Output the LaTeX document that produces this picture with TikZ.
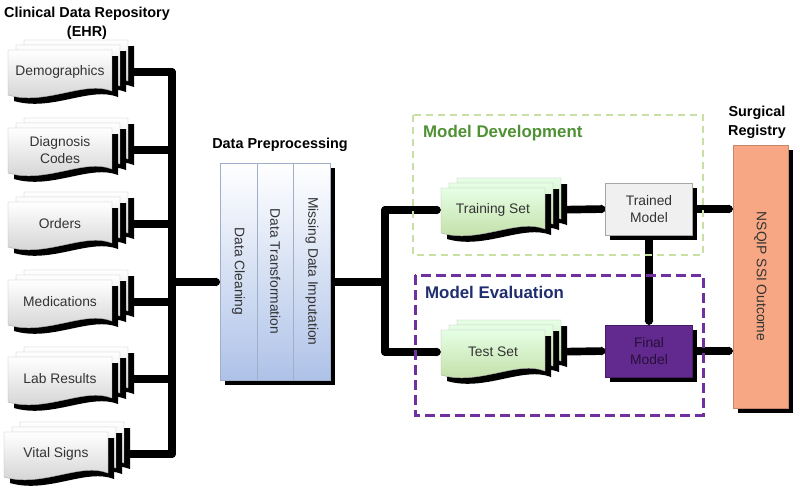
\documentclass[tikz,border=0pt]{standalone}
\usepackage{fontspec}
\setmainfont{Liberation Sans}
\usepackage{tikz}
\usetikzlibrary{arrows.meta}
\usetikzlibrary{shadows}
\pgfdeclarelayer{back}
\pgfsetlayers{back,main}

\definecolor{stackgray}{HTML}{CFCFCF}
\definecolor{stackgreen}{HTML}{BEDBA0}
\definecolor{prepblue}{HTML}{AEC2E8}
\definecolor{devgreen}{HTML}{C9E0A4}
\definecolor{devtitle}{HTML}{4F9134}
\definecolor{evalpurple}{HTML}{7030A0}
\definecolor{evaltitle}{HTML}{1F2E6E}
\definecolor{finalpurple}{HTML}{62298F}
\definecolor{salmon}{HTML}{F7A783}
\definecolor{textgray}{HTML}{333333}

\tikzset{
  link/.style={line width=0.23cm, line cap=round, black},
  tip/.style={-{Triangle[length=0.12cm,width=0.27cm]}},
  sectitle/.style={font=\bfseries\fontsize{12.3}{16}\selectfont, align=center},
  modtitle/.style={font=\bfseries\fontsize{14.4}{16}\selectfont, anchor=west},
  stacktext/.style={minimum width=3.12cm, minimum height=1.32cm, text=textgray,
    align=center, font=\fontsize{11.8}{14}\selectfont},
  graypage/.style={draw=gray!60, top color=white, bottom color=stackgray},
  greenpage/.style={draw=gray!60, top color=green!10!white, bottom color=stackgreen},
  boxshadow/.style={drop shadow={shadow xshift=0.14cm, shadow yshift=-0.16cm,
    fill=black, opacity=1}},
  prepcol/.style={minimum width=1.1cm, minimum height=6.51cm, inner sep=0pt,
    draw=prepblue!70!gray, top color=white, bottom color=prepblue, boxshadow,
    text=textgray, font=\fontsize{11.8}{14}\selectfont},
  modelbox/.style={minimum width=2.6cm, minimum height=1.56cm, align=center,
    boxshadow, font=\fontsize{11.8}{14}\selectfont},
  devframe/.style={devgreen, line width=0.06cm, dash pattern=on 0.21cm off 0.15cm},
  evalframe/.style={evalpurple, line width=0.09cm, dash pattern=on 0.3cm off 0.15cm}
}

% stack of pages: name, x, y, page style, text
\newcommand{\docstack}[5]{%
  \foreach \d in {16,8,0}{
    \begin{scope}[shift={(#2+\d,#3-0.625*\d)}]
      \fill[black] (-46,-16) -- (58,-16) -- (58,25) .. controls (30,14) and (-8,40) .. (-46,29) -- cycle;
      \draw[#4] (-52,-22) -- (52,-22) -- (52,19) .. controls (24,8) and (-14,34) .. (-52,23) -- cycle;
    \end{scope}
  }
  \node[stacktext] (#1) at (#2,#3) {#5};
}

\begin{document}
\begin{tikzpicture}[x=0.03cm, y=-0.03cm]
\useasboundingbox (0,0) rectangle (800,493);
% titles
\node[sectitle] (ehrtitle) at (87,23) {Clinical Data Repository\\(EHR)};
\node[sectitle] (preptitle) at (280,145) {Data Preprocessing};
\node[sectitle] (regtitle) at (757,122) {Surgical\\Registry};
\node[modtitle, text=devtitle] (devtitle) at (419,133) {Model Development};
\node[modtitle, text=evaltitle] (evaltitle) at (421,292) {Model Evaluation};
% ehr sources
\docstack{demo}{60}{72}{graypage}{Demographics}
\docstack{diag}{60}{150}{graypage}{Diagnosis\\Codes}
\docstack{orders}{60}{224}{graypage}{Orders}
\docstack{meds}{60}{302}{graypage}{Medications}
\docstack{lab}{60}{379}{graypage}{Lab Results}
\docstack{vital}{56}{454}{graypage}{Vital Signs}
% preprocessing steps
\node[prepcol] (clean) at (238.5,271.5) {\rotatebox{-90}{Data Cleaning}};
\node[prepcol] (transf) at (275.2,271.5) {\rotatebox{-90}{Data Transformation}};
\node[prepcol] (impute) at (311.9,271.5) {\rotatebox{-90}{Missing Data Imputation}};
% frames
\draw[devframe] (413,115) rectangle (703,255);
\draw[evalframe] (415,275) rectangle (703,415);
% model
\docstack{train}{493}{210}{greenpage}{Training Set}
\docstack{test}{493}{352}{greenpage}{Test Set}
\node[modelbox, draw=gray!70, fill=black!6, text=textgray] (trained) at (649,209) {Trained\\Model};
\node[modelbox, draw=finalpurple!70!black, fill=finalpurple, text=finalpurple!40!black] (final) at (649,351) {Final\\Model};
\node[minimum width=1.65cm, minimum height=7.89cm, draw=salmon!80!black, fill=salmon,
  boxshadow, text=black!80, font=\fontsize{11.8}{14}\selectfont] (nsqip) at (760.5,276.5)
  {\rotatebox{-90}{NSQIP SSI Outcome}};
% connectors
\coordinate (ehrbus) at (172,282);
\coordinate (modbus) at (385,282);
\begin{pgfonlayer}{back}
\foreach \s in {demo,diag,orders,meds,lab,vital}
  \draw[link] (\s.east) -- (\s.east -| ehrbus);
\draw[link] (demo.east -| ehrbus) -- (vital.east -| ehrbus);
\draw[link,tip] (ehrbus) -- (ehrbus -| clean.west);
\draw[link,tip] (modbus -| impute.east) -- (modbus);
\draw[link] (train.west -| modbus) -- (test.west -| modbus);
\draw[link,tip] (train.west -| modbus) -- (train.west);
\draw[link,tip] (test.west -| modbus) -- (test.west);
\draw[link,tip] (train.east) -- (trained.west);
\draw[link,tip] (test.east) -- (final.west);
\draw[link,tip] (trained.south) -- (final.north);
\draw[link,tip] (trained.east) -- (trained.east -| nsqip.west);
\draw[link,tip] (final.east) -- (final.east -| nsqip.west);
\end{pgfonlayer}
\end{tikzpicture}
\end{document}
